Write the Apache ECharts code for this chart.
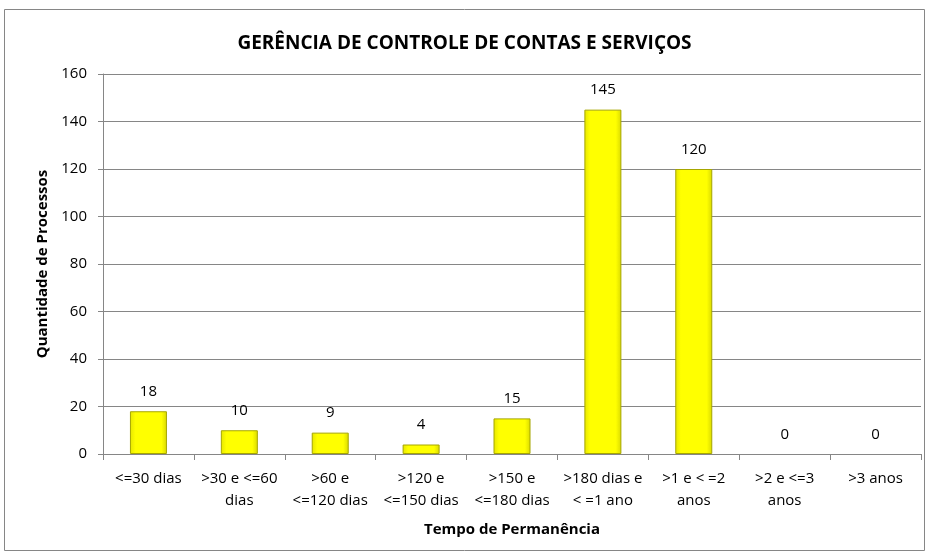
<!DOCTYPE html>
<html lang="pt">
<head>
<meta charset="UTF-8">
<title>Gerência de Controle de Contas e Serviços</title>
<script src="https://cdn.jsdelivr.net/npm/echarts@6/dist/echarts.min.js"></script>
<style>
  html, body { margin: 0; padding: 0; background: #fff; }
  #chart { width: 929px; height: 555px; }
</style>
</head>
<body>
<div id="chart"></div>
<script>
// dados
const categorias = ['<=30 dias', '>30 e <=60\ndias', '>60 e\n<=120 dias', '>120 e\n<=150 dias', '>150 e\n<=180 dias', '>180 dias e\n< =1 ano', '>1 e < =2\nanos', '>2 e <=3\nanos', '>3 anos'];
const quantidades = [18, 10, 9, 4, 15, 145, 120, 0, 0];
const yTicks = [0, 20, 40, 60, 80, 100, 120, 140, 160];

const fonte = '"Open Sans", sans-serif';
const chart = echarts.init(document.getElementById('chart'));

// barras com valor zero não mostram borda
const dadosBarras = quantidades.map(v => v === 0 ? { value: v, itemStyle: { borderWidth: 0 } } : v);

chart.setOption({
  animation: false,
  backgroundColor: '#fff',
  graphic: [{
    // moldura externa
    type: 'rect',
    shape: { x: 4.5, y: 9.5, width: 920, height: 541 },
    style: { fill: 'none', stroke: '#868686', lineWidth: 1 },
    silent: true
  }],
  title: {
    text: 'GERÊNCIA DE CONTROLE DE CONTAS E SERVIÇOS',
    left: 'center',
    top: 29,
    textStyle: { fontFamily: fonte, fontSize: 19, fontWeight: 'bold', color: '#000' }
  },
  grid: { left: 103, right: 8, top: 74, bottom: 101 },
  xAxis: {
    type: 'category',
    data: categorias,
    name: 'Tempo de Permanência',
    nameLocation: 'middle',
    nameGap: 68,
    nameTextStyle: { fontFamily: fonte, fontSize: 15, fontWeight: 'bold', color: '#000' },
    axisLine: { lineStyle: { color: '#868686' } },
    axisTick: { show: true, length: 6, lineStyle: { color: '#868686' } },
    axisLabel: { fontFamily: fonte, fontSize: 15, color: '#000', margin: 14, lineHeight: 22, interval: 0 }
  },
  yAxis: {
    type: 'value',
    min: yTicks[0],
    max: yTicks[yTicks.length - 1],
    interval: yTicks[1] - yTicks[0],
    name: 'Quantidade de Processos',
    nameLocation: 'middle',
    nameGap: 52,
    nameTextStyle: { fontFamily: fonte, fontSize: 15, fontWeight: 'bold', color: '#000' },
    axisLine: { show: true, lineStyle: { color: '#868686' } },
    axisTick: { show: true, length: 5, lineStyle: { color: '#868686' } },
    axisLabel: { fontFamily: fonte, fontSize: 15, color: '#000', margin: 16 },
    splitLine: { lineStyle: { color: '#868686' } }
  },
  series: [{
    type: 'bar',
    data: dadosBarras,
    barWidth: 37,
    itemStyle: {
      color: new echarts.graphic.LinearGradient(0, 0, 1, 0, [
        { offset: 0, color: '#e6e600' },
        { offset: 0.15, color: '#ffff00' },
        { offset: 0.85, color: '#ffff00' },
        { offset: 1, color: '#d9d900' }
      ]),
      borderColor: '#a6a600',
      borderWidth: 1
    },
    label: {
      show: true,
      position: 'top',
      distance: 12,
      fontFamily: fonte,
      fontSize: 15,
      color: '#000'
    }
  }]
});
</script>
</body>
</html>
